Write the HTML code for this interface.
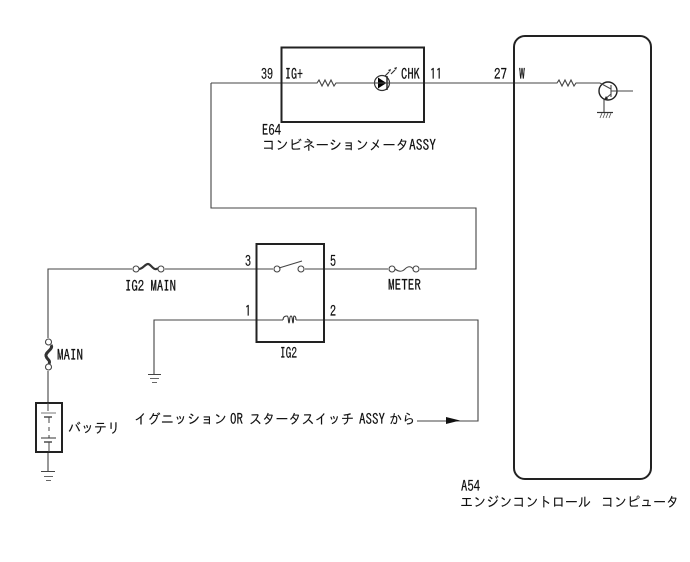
<!DOCTYPE html>
<html lang="ja">
<head>
<meta charset="utf-8">
<style>
html,body{margin:0;padding:0;background:#fff;width:690px;height:562px;overflow:hidden}
svg{display:block}
text{font-family:"IPAGothic","Noto Sans CJK JP",sans-serif;font-size:15px;fill:#111;stroke:#111;stroke-width:.2}
text.k{font-size:14px;stroke-width:.1}
.w{fill:none;stroke:#444;stroke-width:1.1}
.b{fill:none;stroke:#222;stroke-width:2}
.c{fill:#fff;stroke:#444;stroke-width:1.1}
</style>
</head>
<body>
<svg width="690" height="562" viewBox="0 0 690 562" xmlns="http://www.w3.org/2000/svg">
<!-- wires -->
<path class="w" d="M211 83H317l2-3 3 6 3-6 3 6 3-6 3 6 2-3H375M390 83H557l2-3 3 6 3-6 3 6 3-6 3 6 2-3H600"/>
<path class="w" d="M211 83V208H476V269H420M388 269H305M273 269H165M132 269H48V338M48 371V403"/>
<path class="w" d="M154 374V320H283M296 320H478V421H417"/>
<path class="w" d="M48 452V471"/>

<!-- boxes -->
<rect class="b" x="281.500" y="47.500" width="142.500" height="74.500"/>
<rect class="b" x="514" y="36" width="137" height="443" rx="11"/>
<rect class="b" x="256.500" y="244" width="67.500" height="98"/>
<rect class="b" x="36" y="403" width="26" height="49"/>

<!-- LED -->
<circle cx="382" cy="83" r="7.500" fill="#fff" stroke="#333" stroke-width="1.200"/>
<path d="M378 77.500V88.500L386.500 83Z" fill="#000"/>
<path d="M387 76V90" stroke="#222" stroke-width="1.400"/>
<path class="w" d="M374 83H390"/>
<path d="M385 76L389 72M391 74L395 70" stroke="#333" stroke-width="1.200"/>
<path d="M391 69l-3 1 2 2zM397 67l-3 1 2 2z" fill="#222"/>

<!-- transistor -->
<circle cx="608" cy="91" r="9" fill="#fff" stroke="#222" stroke-width="1.400"/>
<path class="w" d="M600 83L611 89M611 85V97M611 91H633M611 94L604 100V112"/>
<path d="M604 100l4-1-2-3z" fill="#222"/>
<path d="M597 112.500H613" stroke="#333" stroke-width="1.200"/>
<path d="M600 118l2-5M603 118l2-5M606 118l2-5M609 118l2-5" stroke="#555" stroke-width="0.800"/>

<!-- IG2 MAIN fuse -->
<path d="M139 269c4 0 6-5 9-5s6 8 10 4" fill="none" stroke="#333" stroke-width="2.200"/>
<circle class="c" cx="136" cy="269" r="3"/>
<circle class="c" cx="161" cy="269" r="3"/>

<!-- METER fuse -->
<path class="w" d="M395 269c4 3 7 3 10 0s6-3 8 0" stroke-width="1.400"/>
<circle class="c" cx="392" cy="269" r="3"/>
<circle class="c" cx="416" cy="269" r="3"/>

<!-- MAIN fuse -->
<path d="M51 345c3 4-6 7-5 11s5 4 3 8" fill="none" stroke="#333" stroke-width="3"/>
<circle class="c" cx="48.500" cy="342" r="3"/>
<circle class="c" cx="48.500" cy="367" r="3"/>

<!-- switch -->
<circle class="c" cx="277" cy="269" r="3"/>
<circle class="c" cx="301" cy="269" r="3"/>
<path class="w" d="M279 268L302 261"/>

<!-- coil -->
<path d="M283 320c0-3 2-4 4-4s1 7 2 7 0-7 2-7 1 7 2 7 0-7 1-7 2 1 2 4" fill="none" stroke="#333" stroke-width="1.100"/>

<!-- ground left -->
<path d="M148 374.500H161" stroke="#444"/>
<path d="M150 378.500H159" stroke="#666"/>
<path d="M152 382.500H157" stroke="#666"/>

<!-- battery -->
<path d="M41 413H56" stroke="#777" stroke-width="1"/>
<path d="M44 417H52" stroke="#222" stroke-width="1.200"/>
<path d="M49 417V423M49 427V431M49 435V438" stroke="#444"/>
<path d="M41 438H56" stroke="#333" stroke-width="1"/>
<path d="M44 442H52" stroke="#222" stroke-width="1.200"/>
<path d="M49 442V452" stroke="#444"/>
<path d="M48 403V411" stroke="#444"/>

<!-- ground battery -->
<path d="M41 471.500H55" stroke="#444"/>
<path d="M44 476.500H53" stroke="#666"/>
<path d="M46 480.500H51" stroke="#666"/>

<!-- arrow -->
<path d="M446 417L460 420.500L446 424Z" fill="#111"/>

<!-- labels -->
<text x="261" y="79" textLength="12" lengthAdjust="spacingAndGlyphs">39</text>
<text x="285" y="79" textLength="18" lengthAdjust="spacingAndGlyphs">IG+</text>
<text x="401" y="79" textLength="19" lengthAdjust="spacingAndGlyphs">CHK</text>
<text x="430" y="79" textLength="12" lengthAdjust="spacingAndGlyphs">11</text>
<text x="494" y="79" textLength="13" lengthAdjust="spacingAndGlyphs">27</text>
<text x="519" y="79" textLength="6" lengthAdjust="spacingAndGlyphs">W</text>
<text x="262" y="135" textLength="19" lengthAdjust="spacingAndGlyphs">E64</text>
<text class="k" x="262" y="150" textLength="147" lengthAdjust="spacingAndGlyphs">コンビネーションメータ</text>
<text x="409" y="150" textLength="27" lengthAdjust="spacingAndGlyphs">ASSY</text>

<text x="245" y="266" textLength="6" lengthAdjust="spacingAndGlyphs">3</text>
<text x="330" y="266" textLength="6" lengthAdjust="spacingAndGlyphs">5</text>
<text x="245" y="316" textLength="6" lengthAdjust="spacingAndGlyphs">1</text>
<text x="330" y="316" textLength="6" lengthAdjust="spacingAndGlyphs">2</text>
<text x="125" y="291" textLength="51" lengthAdjust="spacingAndGlyphs">IG2 MAIN</text>
<text x="388" y="290" textLength="33" lengthAdjust="spacingAndGlyphs">METER</text>
<text x="280" y="358" textLength="17" lengthAdjust="spacingAndGlyphs">IG2</text>
<text x="57" y="360" textLength="26" lengthAdjust="spacingAndGlyphs">MAIN</text>
<text class="k" x="68" y="433" textLength="52" lengthAdjust="spacingAndGlyphs">バッテリ</text>
<text class="k" x="134" y="424" textLength="93" lengthAdjust="spacingAndGlyphs">イグニッション</text>
<text x="230" y="424" textLength="13" lengthAdjust="spacingAndGlyphs">OR</text>
<text class="k" x="249" y="424" textLength="105" lengthAdjust="spacingAndGlyphs">スタータスイッチ</text>
<text x="359" y="424" textLength="26" lengthAdjust="spacingAndGlyphs">ASSY</text>
<text class="k" x="389" y="424" textLength="26" lengthAdjust="spacingAndGlyphs">から</text>
<text x="461" y="491" textLength="19" lengthAdjust="spacingAndGlyphs">A54</text>
<text class="k" x="460" y="507" textLength="131" lengthAdjust="spacingAndGlyphs">エンジンコントロール</text>
<text class="k" x="601" y="507" textLength="78" lengthAdjust="spacingAndGlyphs">コンピュータ</text>
</svg>
</body>
</html>
